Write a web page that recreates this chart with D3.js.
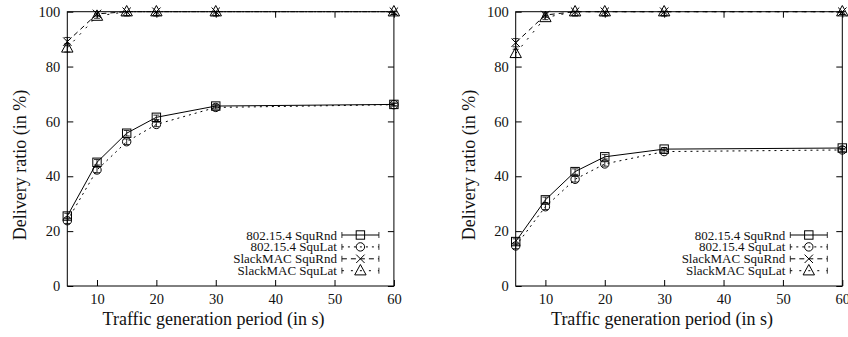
<!DOCTYPE html>
<html>
<head>
<meta charset="utf-8">
<script src="https://cdn.jsdelivr.net/npm/d3@7"></script>
<style>
  body { margin: 0; background: #fff; }
</style>
</head>
<body>
<svg id="chart" width="848" height="337" font-family="'Liberation Serif', 'Times New Roman', serif"></svg>
<script>
// x categories (traffic period, s) and tick labels
const periods = [5, 10, 15, 20, 30, 60];
const xTicks = [10, 20, 30, 40, 50, 60];
const yTicks = [0, 20, 40, 60, 80, 100];
const seriesNames = ["802.15.4 SquRnd", "802.15.4 SquLat", "SlackMAC SquRnd", "SlackMAC SquLat"];

// left panel
const left154Rnd   = [25.5, 45.1, 55.7, 61.5, 65.6, 66.2];
const left154Lat   = [23.8, 42.3, 52.6, 58.9, 65.1, 66.1];
const leftSlackRnd = [89.1, 99.2, 100, 100, 100, 100];
const leftSlackLat = [86.8, 98.4, 100, 100, 100, 100];
// right panel
const right154Rnd   = [16.2, 31.4, 41.7, 47.1, 49.9, 50.3];
const right154Lat   = [14.6, 28.9, 38.9, 44.5, 49.0, 49.6];
const rightSlackRnd = [88.7, 98.8, 100, 100, 100, 100];
const rightSlackLat = [84.8, 97.9, 100, 100, 100, 100];
// error bars (half width, %)
const err154   = [1.0, 1.0, 1.0, 0.8, 0.6, 0.5];
const errSlack = [1.5, 0.8, 1.5, 1.5, 1.5, 1.0];

const FONT = "'Liberation Serif', 'Times New Roman', serif";
const dashes = [null, "2,4", "5,4", "2,7"];
const marks = ["square", "circle", "cross", "triangle"];

const svg = d3.select("#chart");

function marker(g, type, x, y) {
  const s = 4.2;
  if (type === "square") {
    g.append("rect").attr("x", x - s).attr("y", y - s).attr("width", 2 * s).attr("height", 2 * s)
      .attr("fill", "none").attr("stroke", "#000");
  } else if (type === "circle") {
    g.append("circle").attr("cx", x).attr("cy", y).attr("r", s).attr("fill", "none").attr("stroke", "#000");
  } else if (type === "cross") {
    g.append("path").attr("d", `M${x - s},${y - s}L${x + s},${y + s}M${x - s},${y + s}L${x + s},${y - s}`)
      .attr("stroke", "#000");
  } else {
    const h = 5.2;
    g.append("path").attr("d", `M${x},${y - h - 1}L${x + h + 0.5},${y + h - 1}L${x - h - 0.5},${y + h - 1}Z`)
      .attr("fill", "none").attr("stroke", "#000");
  }
}

function drawPanel(left, series, errs) {
  const top = 11.7, bottom = 286, right = left + 326.6;
  const x = d3.scaleLinear().domain([5, 60]).range([left, right]);
  const y = d3.scaleLinear().domain([0, 100]).range([bottom, top]);
  const g = svg.append("g");

  g.append("g").attr("transform", `translate(0,${bottom})`)
    .call(d3.axisBottom(x).tickValues(xTicks).tickSizeInner(-6).tickSizeOuter(0).tickPadding(8))
    .attr("font-family", FONT).attr("font-size", 14.5)
    .call(a => a.select(".domain").remove());
  g.append("g").attr("transform", `translate(0,${top})`)
    .call(d3.axisTop(x).tickValues(xTicks).tickSizeInner(-6).tickSizeOuter(0).tickFormat(""))
    .call(a => a.select(".domain").remove());
  g.append("g").attr("transform", `translate(${left},0)`)
    .call(d3.axisLeft(y).tickValues(yTicks).tickSizeInner(-6).tickSizeOuter(0).tickPadding(7))
    .attr("font-family", FONT).attr("font-size", 14.5)
    .call(a => a.select(".domain").remove());
  g.append("g").attr("transform", `translate(${right},0)`)
    .call(d3.axisRight(y).tickValues(yTicks).tickSizeInner(-6).tickSizeOuter(0).tickFormat(""))
    .call(a => a.select(".domain").remove());
  g.selectAll(".tick line").attr("stroke", "#000");
  g.selectAll(".tick text").attr("fill", "#111");

  g.append("rect").attr("x", left).attr("y", top).attr("width", right - left).attr("height", bottom - top)
    .attr("fill", "none").attr("stroke", "#000");

  const line = d3.line().x(d => x(d[0])).y(d => y(d[1]));
  series.forEach((vals, i) => {
    const pts = periods.map((p, k) => [p, vals[k]]);
    g.append("path").datum(pts).attr("d", line).attr("fill", "none").attr("stroke", "#000")
      .attr("stroke-width", 1).attr("stroke-dasharray", dashes[i]);
    const e = errs[i];
    pts.forEach((d, k) => {
      const px = x(d[0]), y1 = y(d[1] - e[k]), y2 = y(Math.min(d[1] + e[k], 100));
      g.append("path").attr("d", `M${px},${y1}L${px},${y2}M${px - 3},${y1}L${px + 3},${y1}M${px - 3},${y2}L${px + 3},${y2}`)
        .attr("stroke", "#000").attr("stroke-width", 0.8);
      marker(g, marks[i], px, y(d[1]));
    });
  });

  // legend
  seriesNames.forEach((name, i) => {
    const ly = 235 + i * 11.9;
    g.append("text").attr("x", right - 57).attr("y", ly).attr("dy", "0.35em")
      .attr("text-anchor", "end").attr("font-size", 13).attr("fill", "#111").text(name);
    const x1 = right - 52, x2 = right - 15;
    g.append("line").attr("x1", x1).attr("x2", x2).attr("y1", ly).attr("y2", ly)
      .attr("stroke", "#000").attr("stroke-dasharray", dashes[i]);
    g.append("path").attr("d", `M${x1},${ly - 3}L${x1},${ly + 3}M${x2},${ly - 3}L${x2},${ly + 3}`)
      .attr("stroke", "#000").attr("stroke-width", 0.8);
    marker(g, marks[i], (x1 + x2) / 2, ly);
  });

  g.append("text").attr("x", (left + right) / 2 - 17).attr("y", 325)
    .attr("text-anchor", "middle").attr("font-size", 18).attr("fill", "#111").text("Traffic generation period (in s)");
  g.append("text").attr("transform", `translate(${left - 41},165) rotate(-90)`)
    .attr("text-anchor", "middle").attr("font-size", 18).attr("fill", "#111").text("Delivery ratio (in %)");
}

drawPanel(67.3, [left154Rnd, left154Lat, leftSlackRnd, leftSlackLat], [err154, err154, errSlack, errSlack]);
drawPanel(515.7, [right154Rnd, right154Lat, rightSlackRnd, rightSlackLat], [err154, err154, errSlack, errSlack]);
</script>
</body>
</html>
